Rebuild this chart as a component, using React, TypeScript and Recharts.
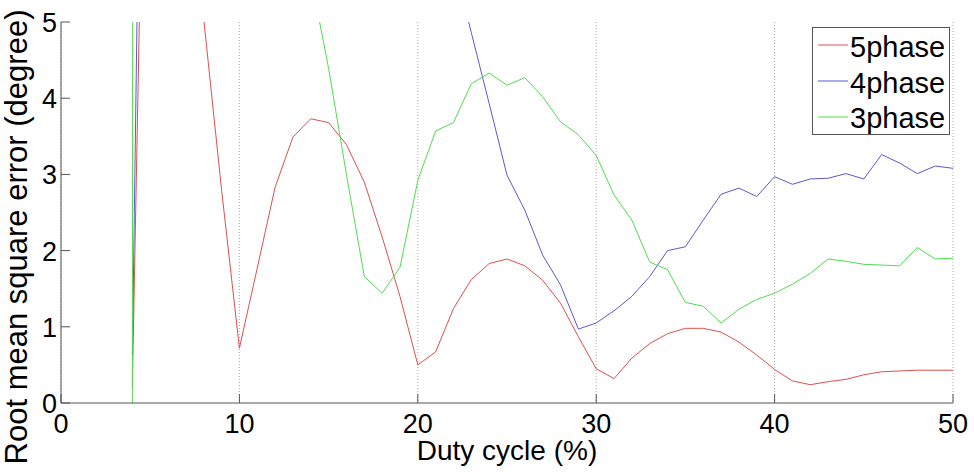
import React from 'react';
import { LineChart, Line, XAxis, YAxis, CartesianGrid, Legend } from 'recharts';

const dutyCycle = [4, 5, 6, 7, 8, 9, 10, 11, 12, 13, 14, 15, 16, 17, 18, 19, 20, 21, 22, 23, 24, 25, 26, 27, 28, 29, 30, 31, 32, 33, 34, 35, 36, 37, 38, 39, 40, 41, 42, 43, 44, 45, 46, 47, 48, 49, 50];

const phase5 = [0.21, 12.5, 11, 8.5, 5.04, 2.8, 0.72, 1.77, 2.83, 3.49, 3.73, 3.68, 3.39, 2.9, 2.18, 1.4, 0.5, 0.67, 1.24, 1.62, 1.83, 1.89, 1.8, 1.61, 1.31, 0.87, 0.45, 0.32, 0.59, 0.78, 0.91, 0.98, 0.98, 0.93, 0.8, 0.63, 0.44, 0.29, 0.24, 0.28, 0.31, 0.37, 0.41, 0.42, 0.43, 0.43, 0.43];

const phase4 = [0.63, 17.5, 16, 15, 14, 13, 12, 11.5, 11, 10.5, 10, 9.5, 9, 8.5, 8, 7.5, 7, 6.6, 5.8, 4.86, 3.93, 2.99, 2.53, 1.94, 1.55, 0.97, 1.05, 1.21, 1.4, 1.66, 2.0, 2.05, 2.4, 2.74, 2.82, 2.71, 2.97, 2.87, 2.94, 2.95, 3.01, 2.94, 3.26, 3.15, 3.01, 3.11, 3.08];

const phase3 = [0.0, 300, 200, 100, 60, 40, 25, 15, 10, 7.5, 5.6, 4.39, 3.0, 1.66, 1.44, 1.78, 2.92, 3.57, 3.68, 4.19, 4.33, 4.17, 4.27, 4.02, 3.69, 3.52, 3.25, 2.73, 2.4, 1.85, 1.75, 1.32, 1.27, 1.05, 1.23, 1.36, 1.44, 1.56, 1.7, 1.89, 1.86, 1.82, 1.81, 1.8, 2.04, 1.89, 1.9];

const xTicks = [0, 10, 20, 30, 40, 50];
const yTicks = [0, 1, 2, 3, 4, 5];

const seriesInfo = [
  { key: 'p5', name: '5phase', color: '#dc5050' },
  { key: 'p4', name: '4phase', color: '#5a5acc' },
  { key: 'p3', name: '3phase', color: '#50dc50' },
];

const data = dutyCycle.map((x, i) => ({ x, p5: phase5[i], p4: phase4[i], p3: phase3[i] }));

const FONT = '"Liberation Sans", Arial, Helvetica, sans-serif';
const AXIS = '#555';
const TICK_LEN = 9;

const BottomTick = (props: any) => {
  const { x, y, payload } = props;
  return (
    <g>
      <line x1={x} x2={x} y1={y} y2={y - TICK_LEN} stroke={AXIS} />
      <text x={x} y={y + 30} textAnchor="middle" fontSize={27} fontFamily={FONT} fill="#000">
        {payload.value}
      </text>
    </g>
  );
};

const TopTick = (props: any) => {
  const { x, y } = props;
  return <line x1={x} x2={x} y1={y} y2={y + TICK_LEN} stroke={AXIS} />;
};

const LeftTick = (props: any) => {
  const { x, y, payload } = props;
  return (
    <g>
      <line x1={x} x2={x + TICK_LEN} y1={y} y2={y} stroke={AXIS} />
      <text x={x - 4} y={y + 10} textAnchor="end" fontSize={27} fontFamily={FONT} fill="#000">
        {payload.value}
      </text>
    </g>
  );
};

const RightTick = (props: any) => {
  const { x, y } = props;
  return <line x1={x} x2={x - TICK_LEN} y1={y} y2={y} stroke={AXIS} />;
};

const XLabel = (props: any) => {
  const vb = props.viewBox || { x: 61, y: 403, width: 892, height: 69 };
  return (
    <text x={vb.x + vb.width / 2} y={vb.y + 57} textAnchor="middle" fontSize={28} fontFamily={FONT} fill="#000">
      Duty cycle (%)
    </text>
  );
};

const YLabel = () => (
  <text transform="translate(27,237) rotate(-90)" textAnchor="middle" fontSize={31} fontFamily={FONT} fill="#000">
    Root mean square error (degree)
  </text>
);

const renderLegend = () => (
  <svg width={138} height={108} style={{ display: 'block' }}>
    <rect x={0.5} y={0.5} width={137} height={107} fill="#fff" stroke={AXIS} />
    {seriesInfo.map((s, i) => (
      <g key={s.key}>
        <line x1={6} x2={36} y1={18 + i * 36} y2={18 + i * 36} stroke={s.color} />
        <text x={38} y={30 + i * 35.5} fontSize={29} fontFamily={FONT} fill="#000">
          {s.name}
        </text>
      </g>
    ))}
  </svg>
);

export default function App() {
  return (
    <div style={{ position: 'absolute', left: 0, top: 0, background: '#fff' }}>
      <LineChart width={974} height={472} data={data} margin={{ top: 22, right: 21, left: 0, bottom: 0 }}>
        <CartesianGrid horizontal={false} vertical={true} stroke="#aaa" strokeDasharray="1 2" />
        <XAxis
          dataKey="x"
          type="number"
          domain={[0, 50]}
          ticks={xTicks}
          height={69}
          tickSize={0}
          tickMargin={0}
          tickLine={false}
          axisLine={{ stroke: AXIS }}
          tick={<BottomTick />}
          label={<XLabel />}
          allowDataOverflow
        />
        <XAxis
          xAxisId="top"
          orientation="top"
          dataKey="x"
          type="number"
          domain={[0, 50]}
          ticks={xTicks}
          height={0}
          tickSize={0}
          tickMargin={0}
          tickLine={false}
          axisLine={{ stroke: AXIS }}
          tick={<TopTick />}
          allowDataOverflow
        />
        <YAxis
          type="number"
          domain={[0, 5]}
          ticks={yTicks}
          width={61}
          tickSize={0}
          tickMargin={0}
          tickLine={false}
          axisLine={{ stroke: AXIS }}
          tick={<LeftTick />}
          label={<YLabel />}
          allowDataOverflow
        />
        <YAxis
          yAxisId="right"
          orientation="right"
          type="number"
          domain={[0, 5]}
          ticks={yTicks}
          width={0}
          tickSize={0}
          tickMargin={0}
          tickLine={false}
          axisLine={{ stroke: AXIS }}
          tick={<RightTick />}
          allowDataOverflow
        />
        <Legend
          layout="vertical"
          verticalAlign="middle"
          align="center"
          content={renderLegend}
          wrapperStyle={{ position: 'absolute', left: 812, top: 27, width: 138, height: 108 }}
        />
        {seriesInfo.map((s) => (
          <Line
            key={s.key}
            type="linear"
            dataKey={s.key}
            name={s.name}
            stroke={s.color}
            strokeWidth={1}
            dot={false}
            activeDot={false}
            isAnimationActive={false}
          />
        ))}
      </LineChart>
    </div>
  );
}
